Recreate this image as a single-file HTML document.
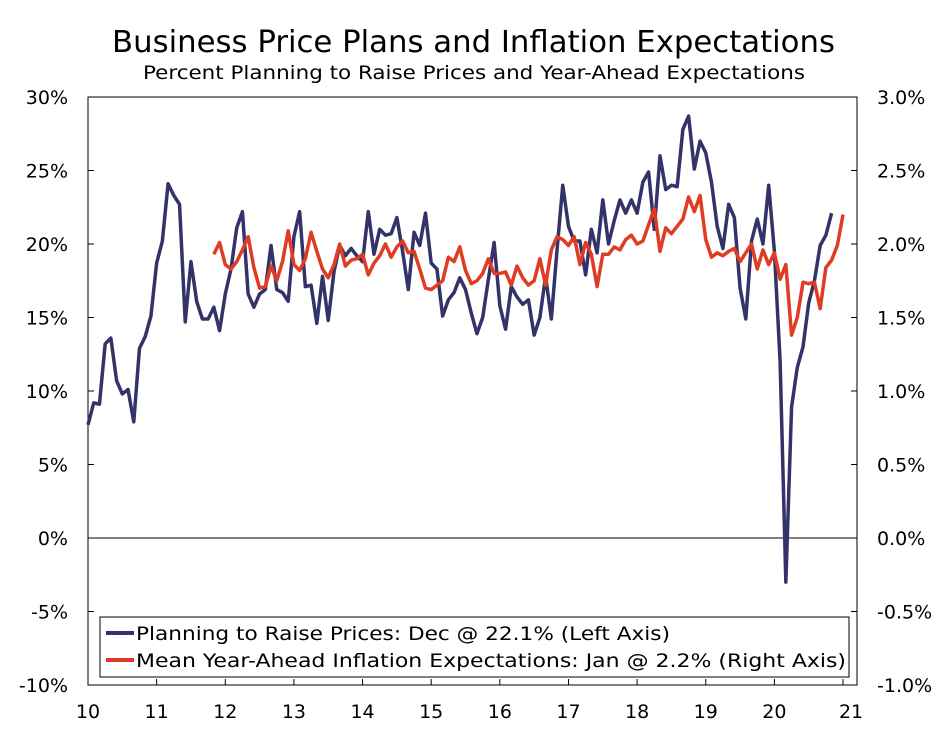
<!DOCTYPE html>
<html><head><meta charset="utf-8"><style>
body{margin:0;background:#fff}
svg text{font-family:"DejaVu Sans","Liberation Sans",sans-serif;fill:#000}
</style></head><body>
<svg id="chart" width="947" height="727" xmlns="http://www.w3.org/2000/svg">
<text x="112" y="52" font-size="30" textLength="723" lengthAdjust="spacingAndGlyphs">Business Price Plans and Inflation Expectations</text>
<text x="143" y="79" font-size="19" textLength="662" lengthAdjust="spacingAndGlyphs">Percent Planning to Raise Prices and Year-Ahead Expectations</text>
<rect x="88" y="97" width="769" height="588" fill="none" stroke="#000" stroke-width="1"/>
<g id="axes"></g>
<g id="series"></g>
<g>
<rect x="100" y="617" width="749" height="60" fill="#fff" stroke="#000" stroke-width="1"/>
<line x1="106" y1="633" x2="134" y2="633" stroke="#33336a" stroke-width="4"/>
<text x="136" y="640" font-size="19" textLength="534" lengthAdjust="spacingAndGlyphs">Planning to Raise Prices: Dec @ 22.1% (Left Axis)</text>
<line x1="106" y1="660" x2="134" y2="660" stroke="#e03c24" stroke-width="4"/>
<text x="136" y="667" font-size="19" textLength="710" lengthAdjust="spacingAndGlyphs">Mean Year-Ahead Inflation Expectations: Jan @ 2.2% (Right Axis)</text>
</g>
</svg>
<script>
const yearLabels=["10","11","12","13","14","15","16","17","18","19","20","21"];
const leftTicks=[30,25,20,15,10,5,0,-5,-10];
const rightTicks=["3.0%","2.5%","2.0%","1.5%","1.0%","0.5%","0.0%","-0.5%","-1.0%"];
const planning=[7.7,9.2,9.1,13.2,13.6,10.7,9.8,10.1,7.9,12.9,13.7,15.1,
18.7,20.2,24.1,23.3,22.7,14.7,18.8,16.1,14.9,14.9,15.7,14.1,
16.6,18.3,21.1,22.2,16.6,15.7,16.6,16.9,19.9,16.9,16.7,16.1,
20.5,22.2,17.1,17.2,14.6,17.8,14.8,18.1,19.9,19.2,19.7,19.2,
18.8,22.2,19.3,21.0,20.6,20.7,21.8,19.5,16.9,20.8,19.9,22.1,
18.7,18.3,15.1,16.2,16.7,17.7,16.9,15.3,13.9,15.0,17.6,20.1,
15.8,14.2,17.1,16.4,15.9,16.2,13.8,15.0,17.8,14.9,19.6,24.0,
21.2,20.2,20.2,17.9,21.0,19.4,23.0,20.0,21.6,23.0,22.1,
23.0,22.1,24.2,24.9,21.0,26.0,23.7,24.0,23.9,27.8,
28.7,25.1,27.0,26.2,24.2,21.2,19.7,22.7,21.8,17.0,14.9,20.2,21.7,20.0,24.0,19.5,12.0,
-3.0,8.9,11.6,13.0,16.0,17.5,19.9,20.6,22.1];
const expectations=[1.93,2.01,1.86,1.83,1.88,1.96,2.05,1.84,1.70,1.71,1.85,1.75,1.88,2.09,1.86,1.82,1.90,2.08,1.95,1.83,1.77,1.86,2.00,1.85,1.89,1.90,1.93,1.79,
1.87,1.92,2.00,1.91,1.98,2.02,1.94,1.95,1.83,1.70,1.69,1.72,1.75,1.91,1.88,1.98,1.82,1.73,1.75,1.80,1.90,1.80,1.80,1.81,1.72,1.85,1.77,1.72,1.75,1.90,1.72,1.96,2.05,2.03,1.99,2.05,1.86,2.01,1.93,1.71,1.93,1.93,1.98,1.96,2.03,2.06,2.00,2.02,2.13,2.24,1.95,2.11,2.07,2.12,2.17,2.32,2.22,2.33,2.03,1.91,1.94,1.92,1.95,1.97,1.88,1.94,2.00,1.83,1.96,1.86,1.94,1.76,1.86,1.38,1.50,1.74,1.73,1.74,1.56,1.84,1.89,1.99,2.20];
const NS="http://www.w3.org/2000/svg";
const X0=88,DX=5.72,YT=97,YB=685;
const xs=i=>X0+i*DX;
const yL=v=>YB-(v+10)/40*(YB-YT);
const yR=v=>yL(v*10);
const axes=document.getElementById('axes'),ser=document.getElementById('series');
function mk(t,a,p){const e=document.createElementNS(NS,t);for(const k in a)e.setAttribute(k,a[k]);p.appendChild(e);return e;}
leftTicks.forEach((v,k)=>{
 const y=yL(v);
 const t=mk('text',{x:68,y:y+7,'font-size':19,'text-anchor':'end'},axes);t.textContent=v+'%';
 
 
 const r=mk('text',{x:877,y:y+7,'font-size':19},axes);r.textContent=rightTicks[k];
 
 
 mk('line',{x1:88,x2:94,y1:y,y2:y,stroke:'#000'},axes);
 mk('line',{x1:851,x2:857,y1:y,y2:y,stroke:'#000'},axes);
});
const z=mk('line',{x1:88,x2:857,y1:yL(0),y2:yL(0),stroke:'#000','stroke-width':1},axes);


yearLabels.forEach((l,k)=>{
 const x=xs(k*12)+(k===11?8:0);
 mk('line',{x1:xs(k*12),x2:xs(k*12),y1:685,y2:679,stroke:'#000'},axes);
 const t=mk('text',{x:x,y:718,'font-size':19,'text-anchor':'middle'},axes);t.textContent=l;
 
 
});
const p1=mk('polyline',{points:planning.map((v,i)=>xs(i)+','+yL(v)).join(' '),fill:'none',stroke:'#33336a','stroke-width':3.5,'stroke-linejoin':'round'},ser);


const off=133-expectations.length;
const p2=mk('polyline',{points:expectations.map((v,i)=>xs(i+off)+','+yR(v)).join(' '),fill:'none',stroke:'#e03c24','stroke-width':3.5,'stroke-linejoin':'round'},ser);


</script>
</body></html>
